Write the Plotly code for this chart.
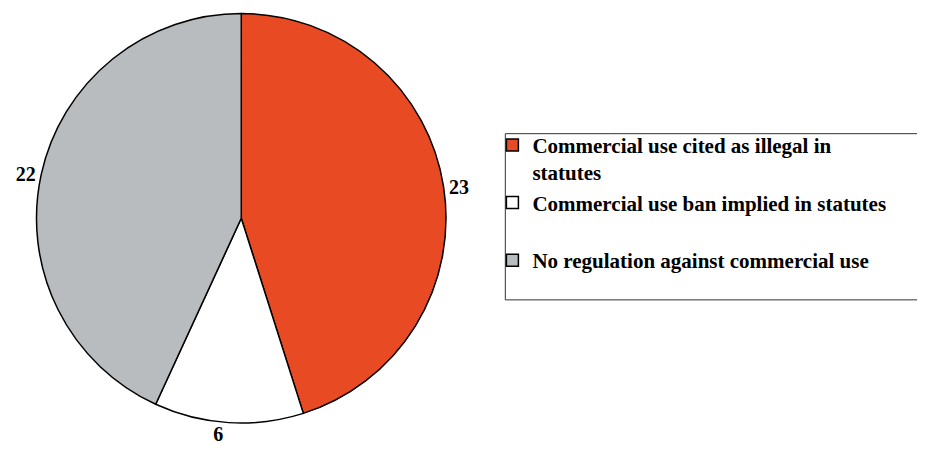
import plotly.graph_objects as go

categories = [
    "Commercial use cited as illegal in<br>statutes",
    "Commercial use ban implied in statutes<br> ",
    "No regulation against commercial use<br> ",
]
values = [23, 6, 22]
colors = ["#E84A24", "#FFFFFF", "#B8BCBE"]

W, H = 925, 462
OFF = 8  # page body margin compensation
cx, cy, r = 237.5 - OFF, 215.5 - OFF, 207

fig = go.Figure(go.Pie(
    labels=categories,
    values=values,
    sort=False,
    direction="clockwise",
    rotation=0,
    marker=dict(colors=colors, line=dict(color="black", width=1.5)),
    textinfo="value",
    textposition="outside",
    textfont=dict(family="Liberation Serif", size=20, color="black", weight="bold"),
    domain=dict(x=[max(0, (cx - r) / W), min(1, (cx + r) / W)],
                y=[max(0, 1 - (cy + r) / H), min(1, 1 - (cy - r) / H)]),
    showlegend=True,
))

fig.add_shape(type="rect", xref="paper", yref="paper",
              x0=(503 - OFF) / W, x1=(924 - OFF) / W,
              y0=1 - (298 - OFF) / H, y1=1 - (130 - OFF) / H,
              line=dict(color="#333333", width=1), fillcolor="rgba(0,0,0,0)")

fig.update_layout(
    width=W, height=H,
    margin=dict(l=0, r=0, t=0, b=0),
    paper_bgcolor="white",
    plot_bgcolor="white",
    font=dict(family="Liberation Serif", color="black"),
    legend=dict(
        x=(490 - OFF) / W, y=1 - (121 - OFF) / H, xanchor="left", yanchor="top",
        font=dict(family="Liberation Serif", size=21, color="black", weight="bold"),
        valign="top",
        itemwidth=30,
        bgcolor="rgba(0,0,0,0)",
        borderwidth=0,
    ),
)

fig.write_html("out.html")
